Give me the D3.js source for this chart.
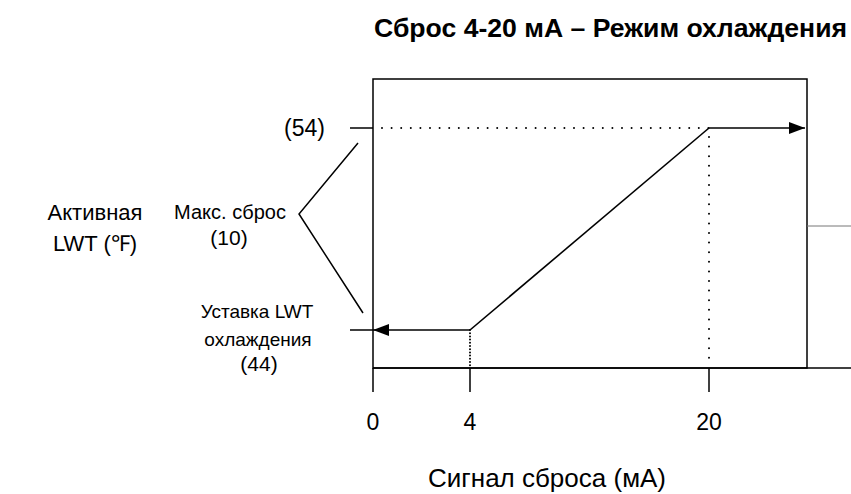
<!DOCTYPE html>
<html>
<head>
<meta charset="utf-8">
<script src="https://cdn.jsdelivr.net/npm/d3@7"></script>
<style>
  html, body { margin: 0; padding: 0; background: #fff; }
  svg text { font-family: "Liberation Sans", Arial, sans-serif; fill: #000; }
</style>
</head>
<body>
<svg id="chart" width="851" height="494"></svg>
<script>
// reset signal (mA) ticks and the schematic reset curve
const xTicks = [0, 4, 20];
const signalMa = [0, 4, 20, 26.5];
const activeLwt = [44, 44, 54, 54];
const lwtLevels = [54, 44];
const maxReset = 10;

const title = 'Сброс 4-20 мА – Режим охлаждения';
const xTitle = 'Сигнал сброса (мА)';
const yTitle = ['Активная', 'LWT (℉)'];

const svg = d3.select('#chart');

// the axis is drawn as a sketch, so the scale is piecewise
const x = d3.scaleLinear().domain(signalMa).range([373, 470, 709, 807]);
const y = d3.scaleLinear().domain([44, 54]).range([330, 128]);

const box = { left: 373, right: 807, top: 79, bottom: 368 };

const defs = svg.append('defs');
defs.append('marker')
    .attr('id', 'arrow')
    .attr('viewBox', '0 0 16 12')
    .attr('refX', 16).attr('refY', 6)
    .attr('markerWidth', 16).attr('markerHeight', 12)
    .attr('markerUnits', 'userSpaceOnUse')
    .attr('orient', 'auto')
  .append('path')
    .attr('d', 'M0,0L16,6L0,12Z')
    .attr('fill', '#000');

svg.append('text')
    .attr('x', 847).attr('y', 37)
    .attr('text-anchor', 'end')
    .attr('font-size', '26.6px')
    .attr('font-weight', 'bold')
    .text(title);

// frame
svg.append('rect')
    .attr('x', box.left).attr('y', box.top)
    .attr('width', box.right - box.left).attr('height', box.bottom - box.top)
    .attr('fill', 'none').attr('stroke', '#000').attr('stroke-width', 1.5);

// x axis line runs past the frame
svg.append('line')
    .attr('x1', box.left).attr('x2', 851)
    .attr('y1', box.bottom).attr('y2', box.bottom)
    .attr('stroke', '#000').attr('stroke-width', 1.5);

svg.append('line')
    .attr('x1', box.right).attr('x2', 851)
    .attr('y1', 226).attr('y2', 226)
    .attr('stroke', '#777').attr('stroke-width', 1);

const xAxis = svg.append('g')
  .selectAll('g')
  .data(xTicks)
  .join('g')
    .attr('transform', d => `translate(${x(d)},${box.bottom})`);
xAxis.append('line')
    .attr('y1', 0).attr('y2', 24)
    .attr('stroke', '#000').attr('stroke-width', 1.5);
xAxis.append('text')
    .attr('y', 62)
    .attr('text-anchor', 'middle')
    .attr('font-size', '23px')
    .text(d => d);

svg.append('text')
    .attr('x', 547).attr('y', 487)
    .attr('text-anchor', 'middle')
    .attr('font-size', '26px')
    .text(xTitle);

// y level ticks and labels
svg.append('g')
  .selectAll('line')
  .data(lwtLevels)
  .join('line')
    .attr('x1', 350).attr('x2', box.left)
    .attr('y1', d => y(d)).attr('y2', d => y(d))
    .attr('stroke', '#000').attr('stroke-width', 1.5);

svg.append('text')
    .attr('x', 325).attr('y', y(54) + 8)
    .attr('text-anchor', 'end')
    .attr('font-size', '23px')
    .text(`(${lwtLevels[0]})`);

// bracket showing the max reset span
svg.append('path')
    .attr('d', `M358,${y(54) + 15}L299,214L363,${y(44) - 17}`)
    .attr('fill', 'none').attr('stroke', '#000').attr('stroke-width', 1.5);

const resetLabel = svg.append('text')
    .attr('text-anchor', 'middle')
    .attr('font-size', '20px');
resetLabel.append('tspan').attr('x', 230).attr('y', 219).text('Макс. сброс');
resetLabel.append('tspan').attr('x', 229).attr('y', 245).attr('font-size', '21px').text(`(${maxReset})`);

const spLabel = svg.append('text')
    .attr('text-anchor', 'middle')
    .attr('font-size', '19px');
spLabel.append('tspan').attr('x', 257).attr('y', 318).text('Уставка LWT');
spLabel.append('tspan').attr('x', 258).attr('y', 346).text('охлаждения');
spLabel.append('tspan').attr('x', 259).attr('y', 371).attr('font-size', '21px').text(`(${lwtLevels[1]})`);

const yLabel = svg.append('text')
    .attr('text-anchor', 'middle')
    .attr('font-size', '22px');
yLabel.append('tspan').attr('x', 95).attr('y', 220).text(yTitle[0]);
yLabel.append('tspan').attr('x', 95).attr('y', 251).text(yTitle[1]);

// dotted guides
const dots = svg.append('g')
    .attr('stroke', '#000').attr('stroke-width', 2)
    .attr('stroke-linecap', 'round').attr('fill', 'none');
dots.append('line')
    .attr('x1', x(0) + 9).attr('x2', x(20))
    .attr('y1', y(54)).attr('y2', y(54))
    .attr('stroke-dasharray', '0,9.6');
dots.append('line')
    .attr('x1', x(20)).attr('x2', x(20))
    .attr('y1', y(54) + 9).attr('y2', box.bottom - 6)
    .attr('stroke-dasharray', '0,9.6');
dots.append('line')
    .attr('x1', x(4)).attr('x2', x(4))
    .attr('y1', y(44)).attr('y2', box.bottom)
    .attr('stroke-dasharray', '0,3.2');

// reset curve: flat at setpoint, ramp from 4 to 20 mA, flat at max
const pts = signalMa.map((m, i) => [x(m), y(activeLwt[i])]);
const line = d3.line();
svg.append('path')
    .attr('d', line([pts[1], pts[0]]))
    .attr('fill', 'none').attr('stroke', '#000').attr('stroke-width', 1.6)
    .attr('marker-end', 'url(#arrow)');
svg.append('path')
    .attr('d', line([pts[1], pts[2]]))
    .attr('fill', 'none').attr('stroke', '#000').attr('stroke-width', 1.6);
svg.append('path')
    .attr('d', line([pts[2], [pts[3][0] - 2, pts[3][1]]]))
    .attr('fill', 'none').attr('stroke', '#000').attr('stroke-width', 1.6)
    .attr('marker-end', 'url(#arrow)');
</script>
</body>
</html>
